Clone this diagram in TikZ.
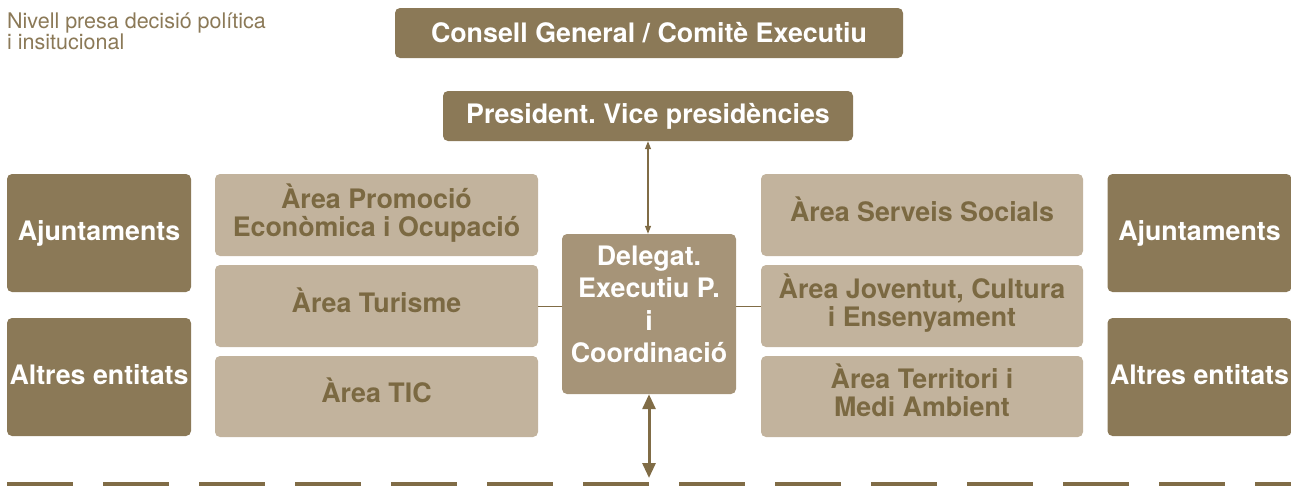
\documentclass[tikz,border=0pt]{standalone}
\usepackage{fontspec}
\setmainfont{TeX Gyre Heros}
\frenchspacing
\usetikzlibrary{arrows.meta}
\definecolor{fosc}{RGB}{139,121,87}
\definecolor{mig}{RGB}{166,148,120}
\definecolor{clar}{RGB}{194,179,157}
\definecolor{lletra}{RGB}{123,105,66}
\definecolor{linia}{RGB}{128,108,70}

\begin{document}
\begin{tikzpicture}[x=1pt,y=-1pt,
  caixa/.style={rounded corners=5pt, inner sep=0pt, align=center,
    font=\bfseries\fontsize{26.8}{28}\selectfont},
  fosca/.style={caixa, fill=fosc, text=white},
  ent/.style={fosca, minimum width=184pt, minimum height=118pt},
  area/.style={caixa, fill=clar, text=lletra, minimum width=323pt, minimum height=82pt, text depth=12pt},
  fletxa/.style={linia, {Triangle[length=8pt,width=6pt]}-{Triangle[length=8pt,width=6pt]}, line width=1.2pt}]
  \useasboundingbox (0,0) rectangle (1291,488);

  \node[anchor=north west, inner sep=0pt, align=left, text=fosc,
    font=\fontsize{21.5}{21}\selectfont] (nivell) at (7,13)
    {Nivell presa decisió política\\i insitucional};
  \node[fosca, minimum width=508pt, minimum height=50pt] (consell) at (649,33) {Consell General / Comitè Executiu};
  \node[fosca, minimum width=410pt, minimum height=50pt] (president) at (648,116) {President. Vice presidències};
  \node[caixa, fill=mig, text=white, minimum width=174pt, minimum height=160pt, text depth=20pt,
    font=\bfseries\fontsize{26.8}{32.5}\selectfont] (delegat) at (649,314)
    {Delegat.\\Executiu P.\\i\\Coordinació};

  \node[ent] (ajunt1) at (99,233) {Ajuntaments};
  \node[ent, text depth=4pt] (altres1) at (99,377) {Altres entitats};
  \node[ent] (ajunt2) at (1199.5,233) {Ajuntaments};
  \node[ent, text depth=4pt] (altres2) at (1199.5,377) {Altres entitats};

  \node[area, text depth=9pt] (promocio) at (376.5,215) {Àrea Promoció\\Econòmica i Ocupació};
  \node[area] (turisme) at (376.5,306) {Àrea Turisme};
  \node[area, minimum height=81pt] (tic) at (376.5,396.5) {Àrea TIC};
  \node[area, minimum width=322pt] (socials) at (922,215) {Àrea Serveis Socials};
  \node[area, minimum width=322pt] (joventut) at (922,306) {Àrea Joventut, Cultura\\i Ensenyament};
  \node[area, minimum width=322pt, minimum height=81pt] (territori) at (922,396.5) {Àrea Territori i\\Medi Ambient};

  \coordinate (base) at (649,478);
  \draw[linia, line width=1pt] (turisme.east) -- (turisme.east -| delegat.west);
  \draw[linia, line width=1pt] (joventut.west) -- (joventut.west -| delegat.east);
  \draw[fletxa] (president.south) -- (president.south |- delegat.north);
  \draw[linia, line width=3pt, {Triangle[length=15pt,width=13pt]}-{Triangle[length=15pt,width=13pt]}] (delegat.south) -- (base);
  \draw[linia, line width=4pt, dash pattern=on 66pt off 30pt] (7,484) -- (1291,484);
\end{tikzpicture}
\end{document}
